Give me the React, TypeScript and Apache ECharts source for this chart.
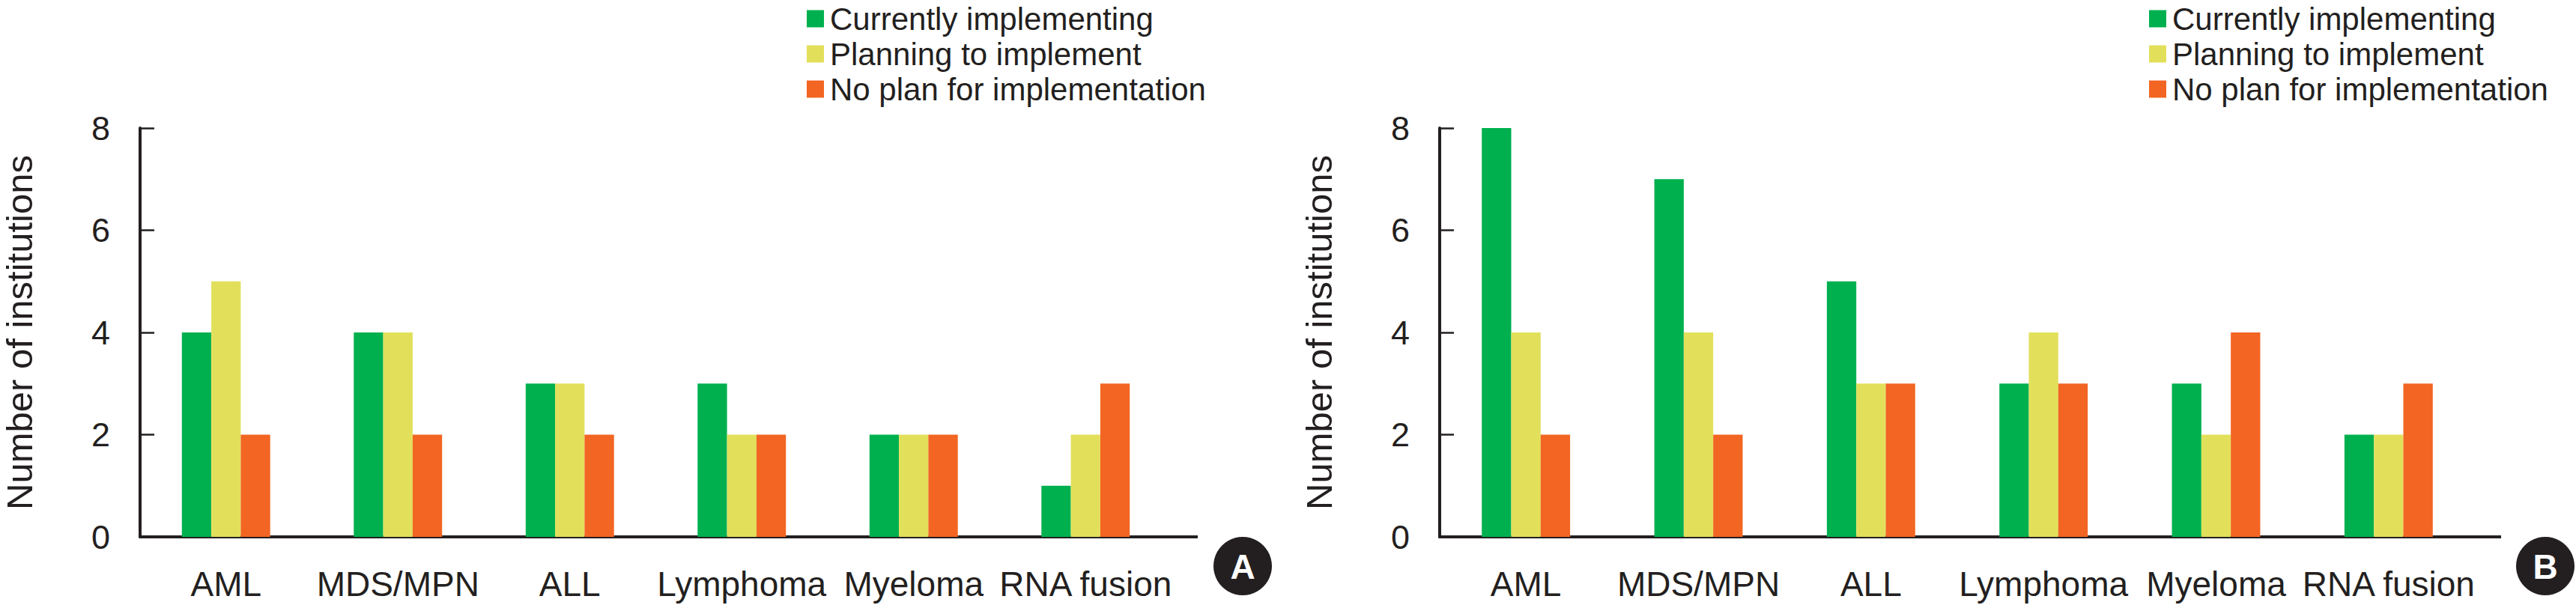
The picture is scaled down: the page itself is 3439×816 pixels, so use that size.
import React, { useEffect, useRef } from "react";
import * as echarts from "echarts";

const categories = ["AML", "MDS/MPN", "ALL", "Lymphoma", "Myeloma", "RNA fusion"];
const seriesNames = ["Currently implementing", "Planning to implement", "No plan for implementation"];
const seriesColors = ["#00b04f", "#e2e05b", "#f26522"];
const yTicks = [0, 2, 4, 6, 8];

const panelACurrently = [4, 4, 3, 3, 2, 1];
const panelAPlanning = [5, 4, 3, 2, 2, 2];
const panelANoPlan = [2, 2, 2, 2, 2, 3];

const panelBCurrently = [8, 7, 5, 3, 3, 2];
const panelBPlanning = [4, 4, 3, 4, 2, 2];
const panelBNoPlan = [2, 2, 3, 3, 4, 3];

const panelLetters = ["A", "B"];

const INK = "#231f20";
const FONT = "'Liberation Sans', Arial, sans-serif";

export default function App() {
  const ref = useRef<HTMLDivElement>(null);

  useEffect(() => {
    document.body.style.margin = "0";
    if (!ref.current) return;
    const chart = echarts.init(ref.current, null, { renderer: "svg" });

    const grids = [
      { left: 183, top: 171, width: 1381, height: 546 },
      { left: 1922, top: 171, width: 1382, height: 546 },
    ];

    const panels = [
      [panelACurrently, panelAPlanning, panelANoPlan],
      [panelBCurrently, panelBPlanning, panelBNoPlan],
    ];

    const xAxes = grids.map((_, i) => ({
      type: "category",
      gridIndex: i,
      data: categories,
      axisLine: { show: true, lineStyle: { color: INK, width: 4 } },
      axisTick: { show: false },
      axisLabel: { color: INK, fontSize: 46, fontFamily: FONT, margin: 40, interval: 0 },
    }));

    const yAxes = grids.map((_, i) => ({
      type: "value",
      gridIndex: i,
      min: yTicks[0],
      max: yTicks[yTicks.length - 1],
      interval: yTicks[1] - yTicks[0],
      name: "Number of institutions",
      nameLocation: "middle",
      nameRotate: 90,
      nameGap: 137,
      nameTextStyle: { color: INK, fontSize: 49, fontFamily: FONT },
      axisLine: { show: true, lineStyle: { color: INK, width: 4 } },
      axisTick: { show: true, inside: true, length: 19, lineStyle: { color: INK, width: 2.5 } },
      axisLabel: { color: INK, fontSize: 45, fontFamily: FONT, margin: 40 },
      splitLine: { show: false },
    }));

    const series: any[] = [];
    panels.forEach((panel, p) => {
      panel.forEach((vals, s) => {
        series.push({
          type: "bar",
          name: seriesNames[s],
          xAxisIndex: p,
          yAxisIndex: p,
          data: vals,
          barWidth: 39.3,
          barGap: "0%",
          itemStyle: { color: seriesColors[s] },
        });
      });
    });

    const legendBase = {
      orient: "vertical",
      top: 4,
      padding: 0,
      itemWidth: 23,
      itemHeight: 23,
      itemGap: 5,
      icon: "rect",
      data: seriesNames,
      selectedMode: false,
      textStyle: { color: INK, fontSize: 42, fontFamily: FONT, lineHeight: 42, padding: [0, 0, 0, 3] },
    };

    const graphic: any[] = [];
    grids.forEach((g, i) => {
      const x0 = g.left + g.width;
      const y0 = g.top + g.height;
      graphic.push({
        type: "line",
        shape: { x1: x0 - 1, y1: y0, x2: x0 + 35, y2: y0 },
        style: { stroke: INK, lineWidth: 4 },
      });
      const cx = i === 0 ? 1659 : 3398;
      graphic.push({
        type: "circle",
        shape: { cx, cy: 756, r: 39 },
        style: { fill: INK },
      });
      graphic.push({
        type: "text",
        x: cx,
        y: 757,
        style: {
          text: panelLetters[i],
          fill: "#ffffff",
          fontSize: 46,
          fontWeight: "bold",
          fontFamily: FONT,
          align: "center",
          verticalAlign: "middle",
        },
      });
    });

    chart.setOption({
      animation: false,
      backgroundColor: "#ffffff",
      grid: grids,
      xAxis: xAxes,
      yAxis: yAxes,
      legend: [
        { ...legendBase, left: 1077 },
        { ...legendBase, left: 2869 },
      ],
      series,
      graphic,
    });

    return () => chart.dispose();
  }, []);

  return <div ref={ref} style={{ width: 3439, height: 816 }} />;
}
